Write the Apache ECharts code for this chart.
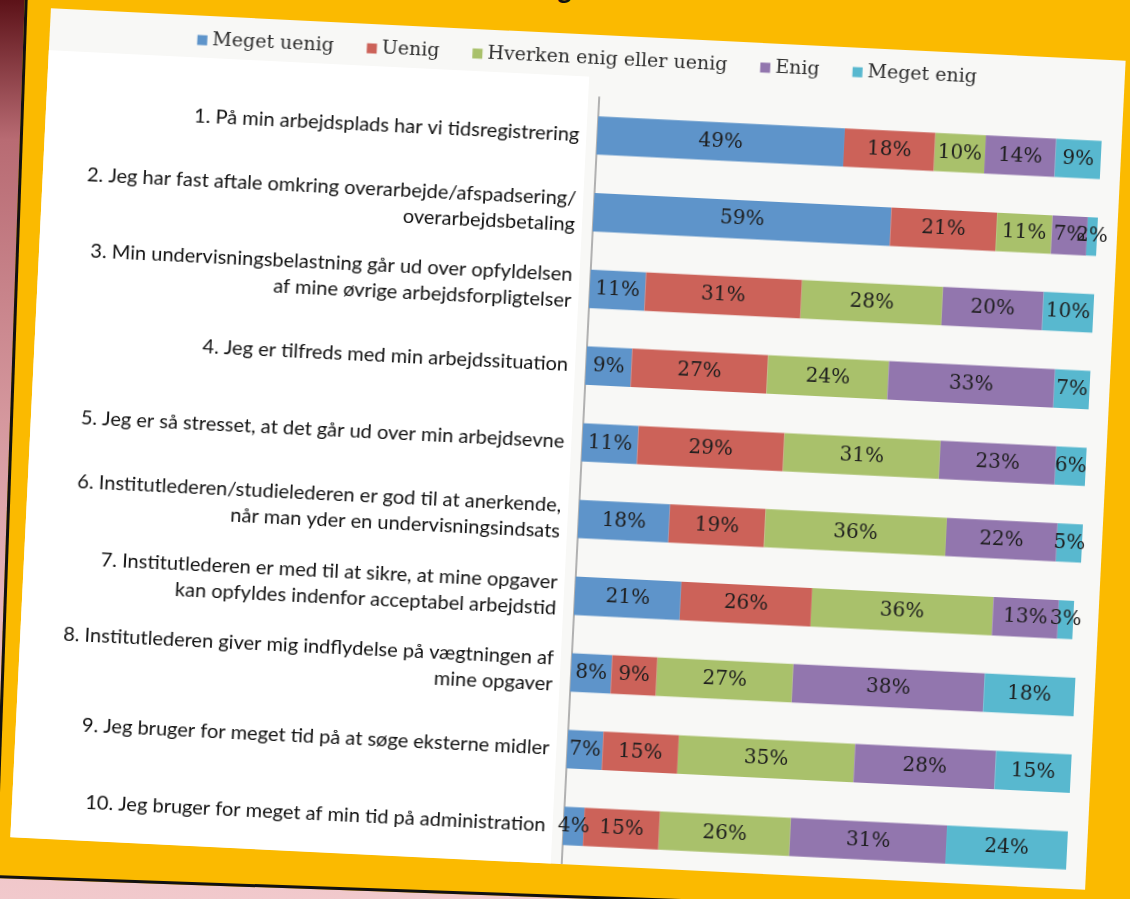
<!DOCTYPE html>
<html>
<head>
<meta charset="utf-8">
<script src="https://cdn.jsdelivr.net/npm/echarts@6/dist/echarts.min.js"></script>
<style>
  html, body { margin: 0; padding: 0; width: 1130px; height: 899px; overflow: hidden; }
  body { position: relative; background: linear-gradient(180deg, #5c1218 0px, #b86b73 140px, #e7b4b9 600px, #f1c9cc 899px); }
  #slide { position: absolute; left: -6px; top: -322px; width: 1400px; height: 1200px;
           background: #FBBA00; border-left: 3px solid #111; border-bottom: 3px solid #111;
           box-sizing: border-box; transform-origin: 0 100%; transform: rotate(2deg); }
  #title { position: absolute; left: 503px; top: -27px; font-family: Lato, sans-serif; font-weight: 900;
           font-size: 26px; color: #111; white-space: nowrap; }
  #panel { position: absolute; left: 30px; top: 33.5px; width: 1076px; height: 830px;
           background: #F8F8F6; transform-origin: 50% 50%; transform: rotate(2.8deg); }
  #chart { width: 1076px; height: 830px; }
</style>
</head>
<body>
<div id="slide"></div>
<div id="title">udsagn:</div>
<div id="panel"><div id="chart"></div></div>
<script>
// ---- data ----
const categories = [
  '1. På min arbejdsplads har vi tidsregistrering',
  '2. Jeg har fast aftale omkring overarbejde/afspadsering/\noverarbejdsbetaling',
  '3. Min undervisningsbelastning går ud over opfyldelsen\naf mine øvrige arbejdsforpligtelser',
  '4. Jeg er tilfreds med min arbejdssituation',
  '5. Jeg er så stresset, at det går ud over min arbejdsevne',
  '6. Institutlederen/studielederen er god til at anerkende,\nnår man yder en undervisningsindsats',
  '7. Institutlederen er med til at sikre, at mine opgaver\nkan opfyldes indenfor acceptabel arbejdstid',
  '8. Institutlederen giver mig indflydelse på vægtningen af\nmine opgaver',
  '9. Jeg bruger for meget tid på at søge eksterne midler',
  '10. Jeg bruger for meget af min tid på administration'
];
const seriesNames = ['Meget uenig', 'Uenig', 'Hverken enig eller uenig', 'Enig', 'Meget enig'];
const megetUenig = [49, 59, 11, 9, 11, 18, 21, 8, 7, 4];
const uenig      = [18, 21, 31, 27, 29, 19, 26, 9, 15, 15];
const hverken    = [10, 11, 28, 24, 31, 36, 36, 27, 35, 26];
const enig       = [14, 7, 20, 33, 23, 22, 13, 38, 28, 31];
const megetEnig  = [9, 2, 10, 7, 6, 5, 3, 18, 15, 24];
const colors = ['#5E94CA', '#CC6259', '#A9C16B', '#9276AE', '#58B8CF'];

const values = [megetUenig, uenig, hverken, enig, megetEnig];

const chart = echarts.init(document.getElementById('chart'), null, { renderer: 'canvas' });
chart.setOption({
  animation: false,
  color: colors,
  graphic: [{
    type: 'rect', z: -10, silent: true,
    shape: { x: 0, y: 42, width: 541, height: 800 },
    style: { fill: '#FFFFFF' }
  }],
  legend: {
    top: 10, left: 'center',
    itemWidth: 10, itemHeight: 10, itemGap: 33,
    icon: 'rect',
    textStyle: { fontFamily: 'DejaVu Serif', fontSize: 19, color: '#2e2e2e' },
    data: seriesNames
  },
  grid: { left: 552, right: 20, top: 62, height: 774, containLabel: false },
  xAxis: { type: 'value', min: 0, max: 100, show: false, splitLine: { show: false } },
  yAxis: {
    type: 'category', data: categories, inverse: true,
    axisLine: { show: true, lineStyle: { color: '#9A9A9A', width: 1.5 } },
    axisTick: { show: false },
    axisLabel: {
      margin: 18, align: 'right', fontFamily: 'Lato', fontSize: 20, lineHeight: 26,
      color: '#111', padding: [6, 0, 0, 0]
    }
  },
  series: seriesNames.map((name, i) => ({
    name, type: 'bar', stack: 'total', barWidth: '50%',
    data: values[i],
    label: {
      show: true, position: 'inside', formatter: '{c}%',
      fontFamily: 'DejaVu Serif', fontSize: 20, color: '#1e1e1e'
    }
  }))
});
</script>
</body>
</html>
